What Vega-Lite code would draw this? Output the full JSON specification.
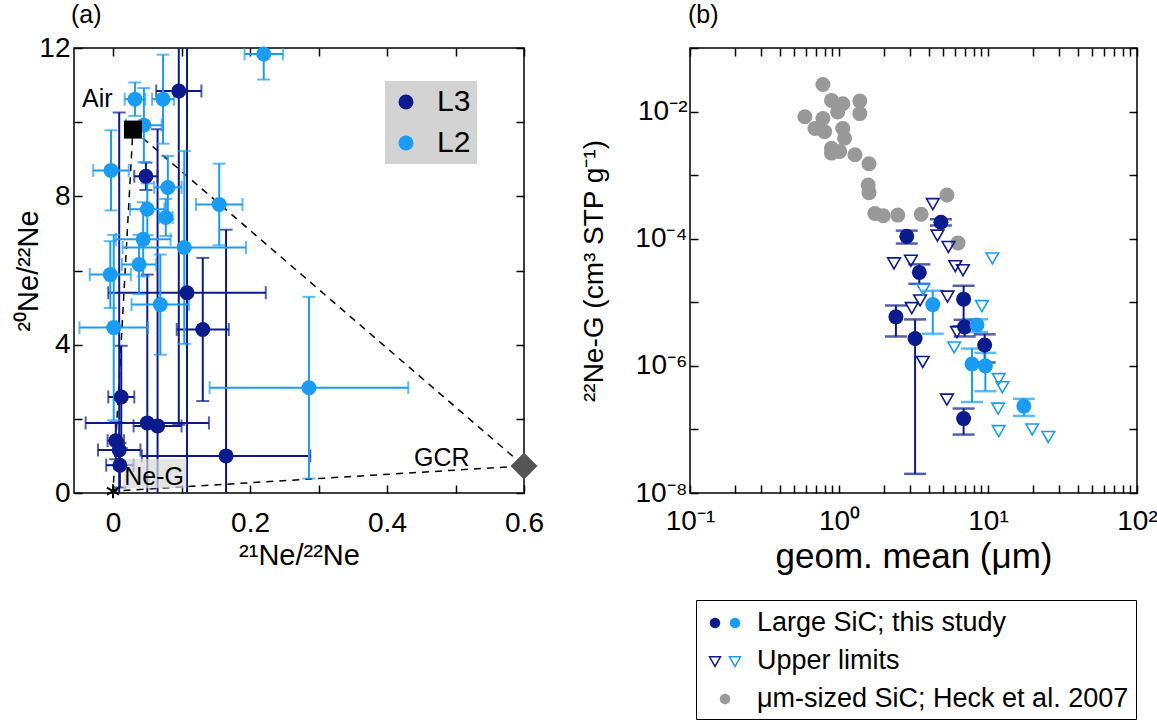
{
  "$schema": "https://vega.github.io/schema/vega-lite/v6.json",
  "padding": {"left": 13, "top": 2, "right": 5, "bottom": 0},
  "config": {
    "font": "Liberation Sans",
    "view": {"stroke": "black", "strokeWidth": 1.5},
    "axis": {"domain": false, "grid": false, "tickColor": "black", "tickWidth": 1.5, "tickSize": -8, "labelColor": "black", "titleColor": "black", "labelFontSize": 28, "titleFontSize": 29, "titleFontWeight": "normal", "labelFlush": false, "labelOverlap": false, "labelPadding": 14}
  },
  "datasets": {
    "a": [
      {"g": "L3", "x": 0.096, "y": 10.84, "xe": 0.033, "ye": 9},
      {"g": "L3", "x": 0.048, "y": 8.54, "xe": 0.017, "ye": 0.37},
      {"g": "L3", "x": 0.108, "y": 5.4, "xe": 0.115, "ye": 6.8},
      {"g": "L3", "x": 0.131, "y": 4.41, "xe": 0.038, "ye": 1.93},
      {"g": "L3", "x": 0.012, "y": 2.59, "xe": 0.019, "ye": 1.38},
      {"g": "L3", "x": 0.05, "y": 1.89, "xe": 0.09, "ye": 4.0},
      {"g": "L3", "x": 0.065, "y": 1.81, "xe": 0.035, "ye": 8.0},
      {"g": "L3", "x": 0.004, "y": 1.41, "xe": 0.012, "ye": 0.5},
      {"g": "L3", "x": 0.009, "y": 1.16, "xe": 0.031, "ye": 9.1},
      {"g": "L3", "x": 0.165, "y": 1.0, "xe": 0.123, "ye": 6.1},
      {"g": "L3", "x": 0.01, "y": 0.75, "xe": 0.02, "ye": 0.6},
      {"g": "L2", "x": 0.22, "y": 11.84, "xe": 0.028, "ye": 0.69},
      {"g": "L2", "x": 0.032, "y": 10.62, "xe": 0.015, "ye": 0.45},
      {"g": "L2", "x": 0.073, "y": 10.62, "xe": 0.016, "ye": 1.2},
      {"g": "L2", "x": 0.045, "y": 9.92, "xe": 0.026, "ye": 1.0},
      {"g": "L2", "x": -0.003, "y": 8.7, "xe": 0.026, "ye": 1.08},
      {"g": "L2", "x": 0.08, "y": 8.24, "xe": 0.02, "ye": 0.85},
      {"g": "L2", "x": 0.155, "y": 7.78, "xe": 0.034, "ye": 1.1},
      {"g": "L2", "x": 0.05, "y": 7.65, "xe": 0.025, "ye": 0.7},
      {"g": "L2", "x": 0.077, "y": 7.43, "xe": 0.01, "ye": 0.5},
      {"g": "L2", "x": 0.044, "y": 6.84, "xe": 0.04, "ye": 1.0},
      {"g": "L2", "x": 0.104, "y": 6.62, "xe": 0.09, "ye": 2.6},
      {"g": "L2", "x": 0.038, "y": 6.16, "xe": 0.025, "ye": 0.8},
      {"g": "L2", "x": -0.004, "y": 5.89, "xe": 0.03, "ye": 0.9},
      {"g": "L2", "x": 0.069, "y": 5.08, "xe": 0.042, "ye": 1.35},
      {"g": "L2", "x": 0.001, "y": 4.46, "xe": 0.05, "ye": 2.5},
      {"g": "L2", "x": 0.286, "y": 2.84, "xe": 0.145, "ye": 2.45}
    ],
    "bdet": [
      {"g": "L3", "x": 2.85, "y": 1.09e-4, "ye": 2.5e-5},
      {"g": "L3", "x": 4.83, "y": 1.82e-4, "ye": 2.0e-5},
      {"g": "L3", "x": 3.46, "y": 2.95e-5, "ye": 1.0e-5},
      {"g": "L3", "x": 6.86, "y": 1.12e-5, "ye": 7e-6},
      {"g": "L3", "x": 2.41, "y": 5.9e-6, "ye": 3e-6},
      {"g": "L3", "x": 3.24, "y": 2.7e-6, "ye": 2.68e-6},
      {"g": "L3", "x": 6.97, "y": 4.1e-6, "ye": 1.2e-6},
      {"g": "L3", "x": 9.5, "y": 2.13e-6, "ye": 1.0e-6},
      {"g": "L3", "x": 6.86, "y": 1.48e-7, "ye": 6.5e-8},
      {"g": "L2", "x": 4.26, "y": 9.2e-6, "ye": 6e-6},
      {"g": "L2", "x": 8.44, "y": 4.4e-6, "ye": 1e-6},
      {"g": "L2", "x": 7.81, "y": 1.07e-6, "ye": 8e-7},
      {"g": "L2", "x": 9.6, "y": 1.0e-6, "ye": 6e-7},
      {"g": "L2", "x": 17.4, "y": 2.33e-7, "ye": 7e-8}
    ],
    "blim": [
      {"g": "L3", "x": 4.26, "y": 3.5e-4},
      {"g": "L3", "x": 4.58, "y": 1.12e-4},
      {"g": "L3", "x": 5.43, "y": 7.4e-5},
      {"g": "L3", "x": 2.34, "y": 4.1e-5},
      {"g": "L3", "x": 3.04, "y": 4.5e-5},
      {"g": "L3", "x": 6.03, "y": 3.7e-5},
      {"g": "L3", "x": 6.79, "y": 3.2e-5},
      {"g": "L3", "x": 3.5, "y": 1.07e-5},
      {"g": "L3", "x": 3.08, "y": 8.1e-6},
      {"g": "L3", "x": 5.35, "y": 1.23e-5},
      {"g": "L3", "x": 6.19, "y": 3.4e-6},
      {"g": "L3", "x": 3.65, "y": 1.15e-6},
      {"g": "L3", "x": 5.3, "y": 2.95e-7},
      {"g": "L2", "x": 10.7, "y": 4.9e-5},
      {"g": "L2", "x": 9.1, "y": 8.7e-6},
      {"g": "L2", "x": 5.93, "y": 1.95e-6},
      {"g": "L2", "x": 11.8, "y": 6.2e-7},
      {"g": "L2", "x": 12.5, "y": 4.6e-7},
      {"g": "L2", "x": 11.7, "y": 2.13e-7},
      {"g": "L2", "x": 11.8, "y": 9.4e-8},
      {"g": "L2", "x": 19.8, "y": 1.0e-7},
      {"g": "L2", "x": 25.4, "y": 7.6e-8},
      {"g": "L2", "x": 3.68, "y": 1.58e-5}
    ],
    "heck": [
      {"x": 0.78, "y": 0.0266}, {"x": 0.89, "y": 0.015}, {"x": 1.06, "y": 0.0133}, {"x": 1.38, "y": 0.0147},
      {"x": 1.38, "y": 0.0093}, {"x": 0.59, "y": 0.00827}, {"x": 0.78, "y": 0.00778}, {"x": 0.98, "y": 0.00989},
      {"x": 0.69, "y": 0.00543}, {"x": 0.8, "y": 0.00483}, {"x": 1.06, "y": 0.00543}, {"x": 1.09, "y": 0.0038},
      {"x": 0.89, "y": 0.00265}, {"x": 0.89, "y": 0.00222}, {"x": 1.01, "y": 0.00236}, {"x": 1.28, "y": 0.00209},
      {"x": 1.59, "y": 0.00151}, {"x": 1.57, "y": 0.000698}, {"x": 1.59, "y": 0.00053}, {"x": 1.74, "y": 0.000249},
      {"x": 1.98, "y": 0.00023}, {"x": 2.48, "y": 0.000235}, {"x": 3.56, "y": 0.000243}, {"x": 5.3, "y": 0.000488},
      {"x": 6.29, "y": 0.000086}
    ],
    "legitems": [
      {"item": "Large SiC; this study"},
      {"item": "Upper limits"},
      {"item": "μm-sized SiC; Heck et al. 2007"}
    ]
  },
  "resolve": {"scale": {"color": "independent", "shape": "independent", "fill": "independent", "stroke": "independent"}, "legend": {"color": "independent", "shape": "independent", "fill": "independent", "stroke": "independent"}},
  "spacing": 34,
  "hconcat": [
    {
      "width": 450,
      "height": 445,
      "title": {"text": "(a)", "anchor": "start", "frame": "group", "fontSize": 25, "fontWeight": "normal", "offset": 6, "dx": -3},
      "resolve": {"axis": {"x": "independent", "y": "independent"}},
      "layer": [
        {
          "data": {"values": [
            {"x": 0.029, "y": 9.8, "o": 1},
            {"x": 0.6, "y": 0.73, "o": 2},
            {"x": 0.0, "y": 0.05, "o": 3},
            {"x": 0.029, "y": 9.8, "o": 4}
          ]},
          "mark": {"type": "line", "color": "black", "strokeDash": [7, 6], "strokeWidth": 1.5},
          "encoding": {
            "x": {"field": "x", "type": "quantitative", "scale": {"domain": [-0.057, 0.6], "nice": false, "zero": false},
                  "axis": {"orient": "bottom", "values": [0, 0.1, 0.2, 0.3, 0.4, 0.5, 0.6], "title": "²¹Ne/²²Ne", "labelPadding": 24,
                           "labelExpr": "indexof([0,2,4,6], round(datum.value*10)) >= 0 ? (datum.value == 0 ? '0' : format(datum.value, '.1f')) : ''"}},
            "y": {"field": "y", "type": "quantitative", "scale": {"domain": [0, 12], "nice": false},
                  "axis": {"orient": "left", "values": [0, 2, 4, 6, 8, 10, 12], "title": "²⁰Ne/²²Ne", "titleX": -31, "titleBaseline": "bottom", "labelPadding": 12,
                           "labelExpr": "round(datum.value) % 4 == 0 ? datum.label : ''"}},
            "order": {"field": "o"}
          }
        },
        {
          "data": {"name": "a"},
          "transform": [{"filter": "datum.g == 'L3'"}],
          "mark": {"type": "errorbar", "color": "#0b1a8c", "ticks": {"size": 13, "thickness": 2}, "rule": {"strokeWidth": 2}, "clip": true},
          "encoding": {
            "x": {"field": "x", "type": "quantitative", "axis": null},
            "xError": {"field": "xe"},
            "y": {"field": "y", "type": "quantitative", "axis": null}
          }
        },
        {
          "data": {"name": "a"},
          "transform": [{"filter": "datum.g == 'L3'"}],
          "mark": {"type": "errorbar", "color": "#0b1a8c", "ticks": {"size": 13, "thickness": 2}, "rule": {"strokeWidth": 2}, "clip": true},
          "encoding": {
            "x": {"field": "x", "type": "quantitative", "axis": null},
            "y": {"field": "y", "type": "quantitative", "axis": null},
            "yError": {"field": "ye"}
          }
        },
        {
          "data": {"name": "a"},
          "transform": [{"filter": "datum.g == 'L2'"}],
          "mark": {"type": "errorbar", "color": "#1a9cf5", "ticks": {"size": 13, "thickness": 2}, "rule": {"strokeWidth": 2}, "clip": true},
          "encoding": {
            "x": {"field": "x", "type": "quantitative", "axis": null},
            "xError": {"field": "xe"},
            "y": {"field": "y", "type": "quantitative", "axis": null}
          }
        },
        {
          "data": {"name": "a"},
          "transform": [{"filter": "datum.g == 'L2'"}],
          "mark": {"type": "errorbar", "color": "#1a9cf5", "ticks": {"size": 13, "thickness": 2}, "rule": {"strokeWidth": 2}, "clip": true},
          "encoding": {
            "x": {"field": "x", "type": "quantitative", "axis": null},
            "y": {"field": "y", "type": "quantitative", "axis": null},
            "yError": {"field": "ye"}
          }
        },
        {
          "data": {"values": [{"x": 0.015, "x2": 0.107, "y": 0.13, "y2": 0.92}]},
          "mark": {"type": "rect", "color": "#d8d8d8", "opacity": 0.7},
          "encoding": {
            "x": {"field": "x", "type": "quantitative", "axis": null},
            "x2": {"field": "x2"},
            "y": {"field": "y", "type": "quantitative", "axis": null},
            "y2": {"field": "y2"}
          }
        },
        {
          "data": {"name": "a"},
          "mark": {"type": "point", "filled": true, "opacity": 1, "size": 225, "shape": "circle"},
          "encoding": {
            "x": {"field": "x", "type": "quantitative", "axis": {"orient": "top", "values": [0, 0.1, 0.2, 0.3, 0.4, 0.5, 0.6], "labels": false, "title": null}},
            "y": {"field": "y", "type": "quantitative", "axis": {"orient": "right", "values": [0, 2, 4, 6, 8, 10, 12], "labels": false, "title": null}},
            "color": {"field": "g", "type": "nominal", "scale": {"domain": ["L3", "L2"], "range": ["#0b1a8c", "#1a9cf5"]},
                      "legend": {"orient": "none", "legendX": 311, "legendY": 33, "title": null, "fillColor": "#d3d3d3", "padding": 6,
                                 "symbolOffset": 0, "labelFontSize": 30, "symbolSize": 225, "symbolType": "circle", "rowPadding": 11, "labelOffset": 16, "symbolStrokeWidth": 0}}
          }
        },
        {
          "data": {"values": [{"x": 0.029, "y": 9.8}]},
          "mark": {"type": "point", "shape": "square", "filled": true, "color": "black", "opacity": 1, "size": 324},
          "encoding": {"x": {"field": "x", "type": "quantitative", "axis": null}, "y": {"field": "y", "type": "quantitative", "axis": null}}
        },
        {
          "data": {"values": [{"x": 0.6, "y": 0.73}]},
          "mark": {"type": "point", "shape": "diamond", "filled": true, "color": "#555555", "opacity": 1, "size": 729, "clip": false},
          "encoding": {"x": {"field": "x", "type": "quantitative", "axis": null}, "y": {"field": "y", "type": "quantitative", "axis": null}}
        },
        {
          "data": {"values": [{"x": 0.0, "y": 0.05}]},
          "mark": {"type": "point", "shape": "M0,-1L0,1M-0.87,-0.5L0.87,0.5M-0.87,0.5L0.87,-0.5", "filled": false, "color": "black", "opacity": 1, "strokeWidth": 2, "size": 196},
          "encoding": {"x": {"field": "x", "type": "quantitative", "axis": null}, "y": {"field": "y", "type": "quantitative", "axis": null}}
        },
        {
          "data": {"values": [
            {"x": -0.023, "y": 10.62, "t": "Air"},
            {"x": 0.48, "y": 0.94, "t": "GCR"},
            {"x": 0.06, "y": 0.42, "t": "Ne-G"}
          ]},
          "mark": {"type": "text", "fontSize": 25, "color": "black", "align": "center", "baseline": "middle"},
          "encoding": {"x": {"field": "x", "type": "quantitative", "axis": null}, "y": {"field": "y", "type": "quantitative", "axis": null}, "text": {"field": "t"}}
        }
      ]
    },
    {
      "width": 447,
      "height": 445,
      "title": {"text": "(b)", "anchor": "start", "frame": "group", "fontSize": 25, "fontWeight": "normal", "offset": 6, "dx": -2},
      "resolve": {"axis": {"x": "independent", "y": "independent"}, "scale": {"shape": "independent", "fill": "independent", "stroke": "independent"}},
      "layer": [
        {
          "data": {"name": "heck"},
          "mark": {"type": "point", "filled": true, "opacity": 1, "size": 225, "shape": "circle", "color": "#999999"},
          "encoding": {
            "x": {"field": "x", "type": "quantitative", "scale": {"type": "log", "domain": [0.1, 100], "nice": false},
                  "axis": {"orient": "bottom", "title": "geom. mean (μm)", "titleFontSize": 35, "titlePadding": 4, "labelPadding": 22,
                           "values": [0.1, 0.2, 0.3, 0.4, 0.5, 0.6, 0.7, 0.8, 0.9, 1, 2, 3, 4, 5, 6, 7, 8, 9, 10, 20, 30, 40, 50, 60, 70, 80, 90, 100],
                           "labelExpr": "datum.value == 0.1 ? '10⁻¹' : datum.value == 1 ? '10⁰' : datum.value == 10 ? '10¹' : datum.value == 100 ? '10²' : ''"}},
            "y": {"field": "y", "type": "quantitative", "scale": {"type": "log", "domain": [1e-8, 0.1], "nice": false},
                  "axis": {"orient": "left", "title": "²²Ne-G (cm³ STP g⁻¹)", "titleX": -82, "titleBaseline": "bottom", "titleFontSize": 28, "labelPadding": 11,
                           "values": [1e-8, 1e-7, 1e-6, 1e-5, 1e-4, 1e-3, 1e-2, 1e-1],
                           "labelExpr": "round(log(datum.value)/LN10) == -8 ? '10⁻⁸' : round(log(datum.value)/LN10) == -6 ? '10⁻⁶' : round(log(datum.value)/LN10) == -4 ? '10⁻⁴' : round(log(datum.value)/LN10) == -2 ? '10⁻²' : ''"}}
          }
        },
        {
          "data": {"name": "bdet"},
          "mark": {"type": "errorbar", "ticks": {"size": 22, "thickness": 2.5}, "rule": {"strokeWidth": 2}, "clip": true},
          "encoding": {
            "x": {"field": "x", "type": "quantitative", "axis": null},
            "y": {"field": "y", "type": "quantitative", "axis": null},
            "yError": {"field": "ye"},
            "color": {"field": "g", "type": "nominal", "scale": {"domain": ["L3", "L2"], "range": ["#0b1a8c", "#1a9cf5"]}, "legend": null}
          }
        },
        {
          "data": {"name": "blim"},
          "mark": {"type": "point", "filled": false, "opacity": 1, "size": 160, "shape": "triangle-down", "strokeWidth": 1.6},
          "encoding": {
            "x": {"field": "x", "type": "quantitative", "axis": null},
            "y": {"field": "y", "type": "quantitative", "axis": null},
            "color": {"field": "g", "type": "nominal", "scale": {"domain": ["L3", "L2"], "range": ["#0b1a8c", "#1a9cf5"]}, "legend": null}
          }
        },
        {
          "data": {"name": "bdet"},
          "mark": {"type": "point", "filled": true, "opacity": 1, "size": 225, "shape": "circle"},
          "encoding": {
            "x": {"field": "x", "type": "quantitative", "axis": {"orient": "top", "labels": false, "title": null,
                  "values": [0.1, 0.2, 0.3, 0.4, 0.5, 0.6, 0.7, 0.8, 0.9, 1, 2, 3, 4, 5, 6, 7, 8, 9, 10, 20, 30, 40, 50, 60, 70, 80, 90, 100]}},
            "y": {"field": "y", "type": "quantitative", "axis": {"orient": "right", "labels": false, "title": null,
                  "values": [1e-8, 1e-7, 1e-6, 1e-5, 1e-4, 1e-3, 1e-2, 1e-1]}},
            "color": {"field": "g", "type": "nominal", "scale": {"domain": ["L3", "L2"], "range": ["#0b1a8c", "#1a9cf5"]}, "legend": null}
          }
        },
        {
          "data": {"name": "legitems"},
          "mark": {"type": "point", "filled": true, "opacity": 0},
          "encoding": {
            "shape": {"field": "item", "type": "nominal",
              "scale": {"range": [
                "M-1.017,0A0.35,0.35 0 1,0 -0.317,0A0.35,0.35 0 1,0 -1.017,0Z",
                "M-1.03,-0.28L-0.3,-0.28L-0.667,0.36Z",
                "M-0.35,0A0.35,0.35 0 1,0 0.35,0A0.35,0.35 0 1,0 -0.35,0Z"
              ]},
              "legend": {"orient": "none", "legendX": 6, "legendY": 552, "title": null, "strokeColor": "black", "padding": 7,
                         "labelFontSize": 27, "labelLimit": 0, "symbolSize": 900, "labelOffset": 16, "rowPadding": 9, "symbolOffset": 6, "symbolStrokeWidth": 1.5,
                         "symbolFillColor": "transparent", "symbolStrokeColor": "transparent"}},
            "fill": {"field": "item", "type": "nominal",
              "scale": {"range": ["#0b1a8c", "transparent", "#999999"]},
              "legend": {"orient": "none", "legendX": 6, "legendY": 552, "title": null, "strokeColor": "black", "padding": 7,
                         "labelFontSize": 27, "labelLimit": 0, "symbolSize": 900, "labelOffset": 16, "rowPadding": 9, "symbolOffset": 6, "symbolStrokeWidth": 1.5,
                         "symbolFillColor": "transparent", "symbolStrokeColor": "transparent"}},
            "stroke": {"field": "item", "type": "nominal",
              "scale": {"range": ["transparent", "#0b1a8c", "transparent"]},
              "legend": {"orient": "none", "legendX": 6, "legendY": 552, "title": null, "strokeColor": "black", "padding": 7,
                         "labelFontSize": 27, "labelLimit": 0, "symbolSize": 900, "labelOffset": 16, "rowPadding": 9, "symbolOffset": 6, "symbolStrokeWidth": 1.5,
                         "symbolFillColor": "transparent", "symbolStrokeColor": "transparent"}}
          }
        },
        {
          "data": {"name": "legitems"},
          "mark": {"type": "point", "filled": true, "opacity": 0},
          "encoding": {
            "shape": {"field": "item", "type": "nominal",
              "scale": {"range": [
                "M0.317,0A0.35,0.35 0 1,0 1.017,0A0.35,0.35 0 1,0 0.317,0Z",
                "M0.3,-0.28L1.03,-0.28L0.667,0.36Z",
                "M-0.35,0A0.35,0.35 0 1,0 0.35,0A0.35,0.35 0 1,0 -0.35,0Z"
              ]},
              "legend": {"orient": "none", "legendX": 6, "legendY": 552, "title": null, "padding": 7, "labelOpacity": 0,
                         "labelFontSize": 27, "labelLimit": 0, "symbolSize": 900, "labelOffset": 16, "rowPadding": 9, "symbolOffset": 6, "symbolStrokeWidth": 1.5,
                         "symbolFillColor": "transparent", "symbolStrokeColor": "transparent"}},
            "fill": {"field": "item", "type": "nominal",
              "scale": {"range": ["#1a9cf5", "transparent", "transparent"]},
              "legend": {"orient": "none", "legendX": 6, "legendY": 552, "title": null, "padding": 7, "labelOpacity": 0,
                         "labelFontSize": 27, "labelLimit": 0, "symbolSize": 900, "labelOffset": 16, "rowPadding": 9, "symbolOffset": 6, "symbolStrokeWidth": 1.5,
                         "symbolFillColor": "transparent", "symbolStrokeColor": "transparent"}},
            "stroke": {"field": "item", "type": "nominal",
              "scale": {"range": ["transparent", "#1a9cf5", "transparent"]},
              "legend": {"orient": "none", "legendX": 6, "legendY": 552, "title": null, "padding": 7, "labelOpacity": 0,
                         "labelFontSize": 27, "labelLimit": 0, "symbolSize": 900, "labelOffset": 16, "rowPadding": 9, "symbolOffset": 6, "symbolStrokeWidth": 1.5,
                         "symbolFillColor": "transparent", "symbolStrokeColor": "transparent"}}
          }
        }
      ]
    }
  ]
}
